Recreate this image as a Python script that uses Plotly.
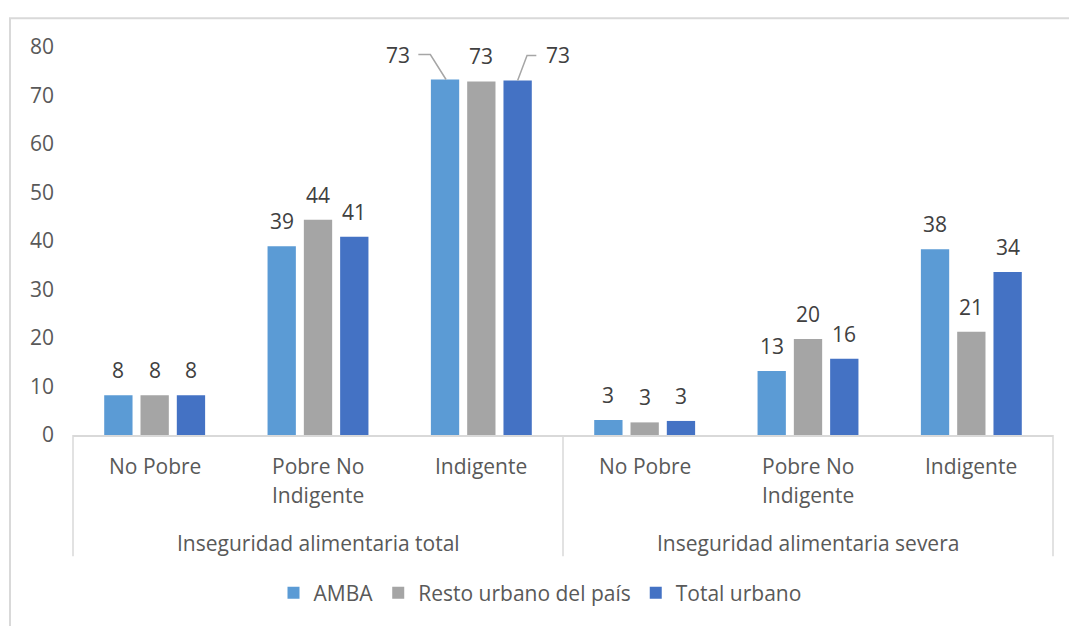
import plotly.graph_objects as go

# ---- data ----
groups = ["Inseguridad alimentaria total", "Inseguridad alimentaria severa"]
subcats = ["No Pobre", "Pobre No Indigente", "Indigente",
           "No Pobre", "Pobre No Indigente", "Indigente"]
series_names = ["AMBA", "Resto urbano del país", "Total urbano"]
amba = [8.2, 38.9, 73.3, 3.1, 13.2, 38.3]
resto = [8.2, 44.4, 72.9, 2.6, 19.8, 21.3]
total = [8.2, 40.9, 73.1, 2.9, 15.7, 33.6]
yticks = [0, 10, 20, 30, 40, 50, 60, 70, 80]

colors = ["#5B9BD5", "#A5A5A5", "#4472C4"]
FONT = "Open Sans"
AX_COL = "#595959"
LBL_COL = "#404040"
LINE_COL = "#D9D9D9"
FS = 21

W, H = 1069, 626
ML, MR, MT, MB = 73, 16, 47, 189
PW = W - ML - MR
PH = H - MT - MB

bargap = 1 / 3
slot = (1 - bargap) / 3
xpos = list(range(len(subcats)))

fig = go.Figure()
all_vals = [amba, resto, total]
for name, vals, col in zip(series_names, all_vals, colors):
    fig.add_trace(go.Bar(x=xpos, y=vals, name=name, marker_color=col,
                         marker_line_width=0, hoverinfo="skip"))

annotations = []
shapes = []
# data labels
for i, vals in enumerate(all_vals):
    for j, v in enumerate(vals):
        xs = 0
        if j == 2 and i == 0:
            xs = -47
        if j == 2 and i == 2:
            xs = 40
        annotations.append(dict(x=j + (i - 1) * slot, y=v, xref="x", yref="y",
                                text=str(round(v)), showarrow=False,
                                yshift=25, xshift=xs, yanchor="middle",
                                font=dict(family=FONT, size=FS, color=LBL_COL)))

# leader lines for moved labels
shapes.append(dict(type="path", xref="x", yref="y", xsizemode="pixel", ysizemode="pixel",
                   xanchor=2 - slot, yanchor=amba[2],
                   path="M 1,0 L -14.7,25 L -26.7,25",
                   line=dict(color="#A6A6A6", width=1.5)))
shapes.append(dict(type="path", xref="x", yref="y", xsizemode="pixel", ysizemode="pixel",
                   xanchor=2 + slot, yanchor=total[2],
                   path="M 0,0 L 9.4,25 L 18.7,25",
                   line=dict(color="#A6A6A6", width=1.5)))

# category labels
for j, lab in enumerate(subcats):
    if lab == "Pobre No Indigente":
        lines = ["Pobre No", "Indigente"]
    else:
        lines = [lab]
    for k, t in enumerate(lines):
        annotations.append(dict(x=j, y=0, xref="x", yref="paper", text=t,
                                showarrow=False, yanchor="middle",
                                yshift=-31 - 29 * k,
                                font=dict(family=FONT, size=FS, color=AX_COL)))
for g, gname in enumerate(groups):
    annotations.append(dict(x=1 + 3 * g, y=0, xref="x", yref="paper", text=gname,
                            showarrow=False, yanchor="middle", yshift=-108,
                            font=dict(family=FONT, size=FS, color=AX_COL)))

# divider lines under axis
ybot = -(559 - (MT + PH)) / PH
for xp in [0, 0.5, 1]:
    shapes.append(dict(type="line", xref="paper", yref="paper", x0=xp, x1=xp,
                       y0=ybot, y1=0, line=dict(color=LINE_COL, width=1.5)))

# chart border
shapes.append(dict(type="rect", xref="paper", yref="paper",
                   x0=(10 - ML) / PW, x1=(W + 10 - ML) / PW,
                   y0=-(H + 20 - MT - PH) / PH, y1=(MT + PH - 18) / PH,
                   line=dict(color=LINE_COL, width=2), layer="below"))

fig.update_layout(
    width=W, height=H,
    margin=dict(l=ML, r=MR, t=MT, b=MB),
    paper_bgcolor="white", plot_bgcolor="white",
    barmode="group", bargap=bargap, bargroupgap=0.22,
    font=dict(family=FONT, size=FS, color=AX_COL),
    xaxis=dict(range=[-0.5, 5.5], showticklabels=False, showgrid=False,
               zeroline=False, showline=True, linecolor=LINE_COL, linewidth=1.5,
               ticks=""),
    yaxis=dict(range=[0, 80], tickvals=yticks, showgrid=False, zeroline=False,
               showline=False, ticks="", ticklabelstandoff=18,
               tickfont=dict(family=FONT, size=FS, color=AX_COL)),
    legend=dict(orientation="h", x=(540 - ML) / PW, xanchor="center",
                y=-(596 - (MT + PH)) / PH, yanchor="middle",
                font=dict(family=FONT, size=FS, color=AX_COL),
                bgcolor="rgba(0,0,0,0)"),
    annotations=annotations, shapes=shapes,
)

fig.write_html("out.html", config={"displayModeBar": False},
               post_script="document.body.style.margin='0';document.body.style.overflow='hidden';")
